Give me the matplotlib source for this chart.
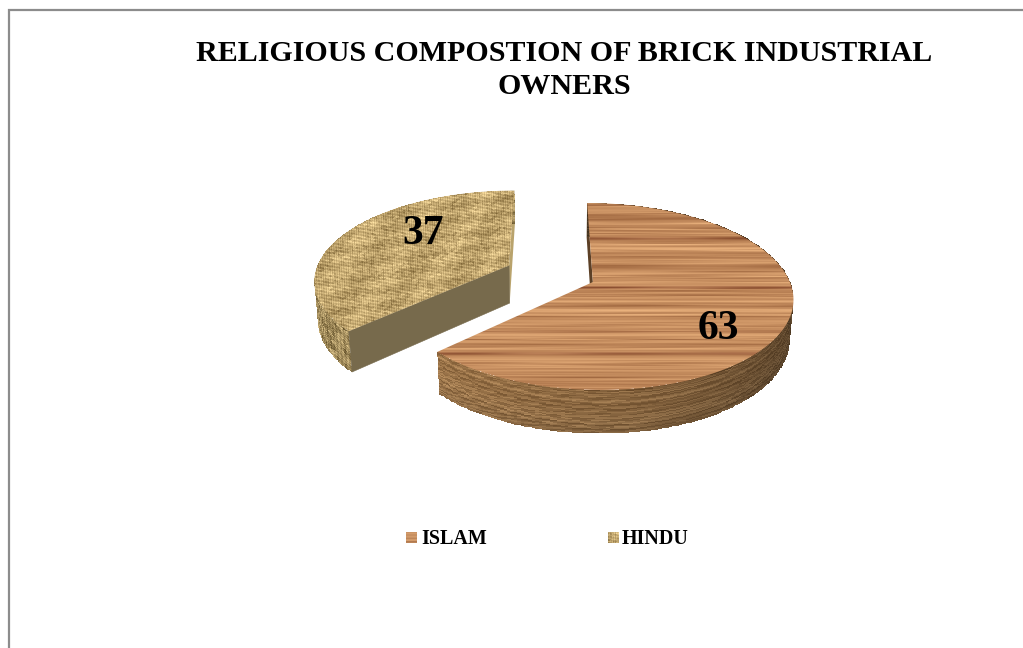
import numpy as np
import matplotlib
matplotlib.use("Agg")
import matplotlib.pyplot as plt
from matplotlib.patches import Polygon, Rectangle

TITLE = "RELIGIOUS COMPOSTION OF BRICK INDUSTRIAL\nOWNERS"
labels = ["ISLAM", "HINDU"]
values = [63, 37]

# camera for the tilted pie: vanishing x, horizon-ish y, scales, depth of the disc
VX, Y0 = 550.0, 282.0
A, B = 197.0, 91.2
K, Q = 0.155, 0.015
D = 39.0
EXPLODE = 0.235
CENTER = (0.002, 0.093)

SERIF = "Liberation Serif"


def project(x, y, h):
    w = 1 + K * y + Q * h
    return VX + A * x / w, Y0 - (B * y - D * h) / w


def hash_noise(n, seed):
    v = np.sin((np.arange(n) + seed) * 12.9898) * 43758.5453
    return v - np.floor(v)


def hash_cells(a, b):
    v = np.sin(a * 12.9898 + b * 78.233) * 43758.5453
    return v - np.floor(v)


def smooth(v, n):
    return np.convolve(v, np.ones(n) / n, mode="same")


def wood_top(x0, x1, y0, y1):
    nx, ny = x1 - x0, y1 - y0
    rows = np.arange(y0, y1)
    fine_a = smooth(hash_noise(ny, 3) - 0.5, 2) * 1.3
    fine_b = smooth(hash_noise(ny, 41) - 0.5, 2) * 1.3
    mid = smooth(hash_noise(ny, 91) - 0.5, 7) * 2.0
    phase = hash_noise(ny, 17) * 6.28
    xx = np.arange(nx)[None, :]
    # streaks fade in and out along their length
    mix = 0.5 + 0.5 * np.sin(xx / 33 + phase[:, None])
    val = fine_a[:, None] * mix + fine_b[:, None] * (1 - mix) + mid[:, None]
    dark = sum(np.exp(-((rows - r) / 1.5) ** 2) * a for r, a in [(238, 0.8), (287, 1.0), (353, 0.9), (331, 0.3)])
    base = np.array([196, 140, 94])
    amp = np.array([46, 46, 38])
    img = base + val[..., None] * amp
    img = img - (dark[:, None] * (0.85 + 0.15 * np.sin(xx / 23)))[..., None] * np.array([58, 62, 46])
    return np.clip(img, 0, 255) / 255


def burlap(x0, x1, y0, y1, shade=1.0):
    xx, yy = np.meshgrid(np.arange(x0, x1), np.arange(y0, y1))
    u = (xx + 1.4 * yy) / 4.1
    v = (xx - 1.9 * yy) / 5.3
    weave = np.sin(u * 2 * np.pi) * np.sin(v * 2 * np.pi)
    thread = hash_cells(np.floor(u), np.floor(v)) - 0.5
    patch = np.sin(xx / 11.0 + yy / 4.0) * np.sin(xx / 27.0 - yy / 6.0)
    val = 0.45 * weave + 0.7 * thread + 0.35 * patch
    base = np.array([192, 165, 110])
    amp = np.array([62, 60, 52])
    return np.clip((base + val[..., None] * amp) * shade, 0, 255) / 255


def textured(ax, img, extent, pts, z):
    im = ax.imshow(img, extent=extent, aspect="auto", interpolation="bilinear", zorder=z)
    im.set_clip_path(Polygon(pts, closed=True, transform=ax.transData))
    return im


fig = plt.figure(figsize=(10.23, 6.48), dpi=100)
ax = fig.add_axes([0, 0, 1, 1])
ax.axis("off")

# chart area frame runs off the right and bottom edges
ax.add_patch(Rectangle((9, 10), 1200, 800, fc="white", ec="#8c8c8c", lw=1.6, zorder=0))

# slice angles run clockwise from twelve o'clock
fracs = np.array(values) / sum(values)
edges = np.concatenate([[0], np.cumsum(fracs)]) * 2 * np.pi
mids = (edges[:-1] + edges[1:]) / 2
apex = [(CENTER[0] + EXPLODE * np.sin(m), CENTER[1] + EXPLODE * np.cos(m)) for m in mids]


def arc(i, n=160):
    t = np.linspace(edges[i], edges[i + 1], n)
    return t, apex[i][0] + np.sin(t), apex[i][1] + np.cos(t)


def top_outline(i):
    t, x, y = arc(i)
    sx, sy = project(x, y, 0)
    ax0, ay0 = project(apex[i][0], apex[i][1], 0)
    return np.column_stack([np.r_[ax0, sx], np.r_[ay0, sy]])


def wall_mesh(i, n_h=45):
    t, x, y = arc(i, 240)
    h = np.linspace(0, 1, n_h + 1)
    hh, xx = np.meshgrid(h, x, indexing="ij")
    yy = np.broadcast_to(y, hh.shape)
    return t, h, *project(xx, yy, hh)


def cut_face(i, edge_angle):
    px, py = apex[i][0] + np.sin(edge_angle), apex[i][1] + np.cos(edge_angle)
    a0 = project(apex[i][0], apex[i][1], 0)
    a1 = project(apex[i][0], apex[i][1], 1)
    p0 = project(px, py, 0)
    p1 = project(px, py, 1)
    return np.array([a0, p0, p1, a1])


# HINDU slice: far one, drawn first
ax.add_patch(Polygon(cut_face(1, edges[2]), closed=True, fc="#b9a36c", ec="none", zorder=2))
t, h, mx, my = wall_mesh(1)
ii, jj = np.meshgrid(np.arange(mx.shape[1] - 1), np.arange(mx.shape[0] - 1))
u, v = (ii + 1.3 * jj) / 7.0, (ii - 1.7 * jj) / 9.0
pat = np.sin(u * 6.28) * np.sin(v * 6.28) * 0.5 + (hash_cells(np.floor(u), np.floor(v)) - 0.5) * 1.1
col = np.array([162, 140, 92]) + pat[..., None] * np.array([66, 62, 52])
ax.pcolormesh(mx, my, np.clip(col, 0, 255) / 255, shading="flat", zorder=3)
ax.add_patch(Polygon(cut_face(1, edges[1]), closed=True, fc="#776a4c", ec="#776a4c", lw=0.4, zorder=4))
textured(ax, burlap(300, 530, 180, 345), (300, 530, 345, 180), top_outline(1), 5)

# ISLAM slice: left cut wall, side wall with curved grain, then the top
ax.add_patch(Polygon(cut_face(0, edges[0]), closed=True, fc="#5c4026", ec="none", zorder=6))
t, h, mx, my = wall_mesh(0)
t_mid = (t[:-1] + t[1:]) / 2
h_mid = (h[:-1] + h[1:]) / 2
grain = 0.6 * (hash_noise(140, 23) - 0.5) + 0.9 * smooth(hash_noise(140, 61) - 0.5, 5)
tt, hm = np.meshgrid(t_mid, h_mid)
ridx = np.clip((hm * 0.78 + 0.1 + 0.1 * np.sin(tt * 1.7)) * 139, 0, 139).astype(int)
light = np.interp(tt, [0, np.pi / 2, 2.2, 3.0, edges[1]], [0.55, 0.6, 0.72, 0.98, 1.12])
col = (np.array([146, 110, 70]) + grain[ridx][..., None] * np.array([70, 62, 50])) * light[..., None]
col = col * (1 - 0.14 * hm[..., None] ** 2)
ax.pcolormesh(mx, my, np.clip(col, 0, 255) / 255, shading="flat", zorder=7)
textured(ax, wood_top(425, 805, 195, 400), (425, 805, 400, 195), top_outline(0), 8)

# value labels
ax.text(423, 234, str(values[1]), family=SERIF, weight="bold", fontsize=30,
        ha="center", va="center", color="black", zorder=10)
ax.text(718, 329, str(values[0]), family=SERIF, weight="bold", fontsize=30,
        ha="center", va="center", color="black", zorder=10)

# title
ax.text(564, 70, TITLE, family=SERIF, weight="bold", fontsize=21.6, ha="center", va="center",
        linespacing=1.26, color="black", zorder=10)

# legend keys carry a small swatch of each texture
key_imgs = [wood_top(425, 436, 300, 311), burlap(340, 351, 240, 251)]
for name, kx, tx, img in zip(labels, [406, 608], [421, 622], key_imgs):
    ax.imshow(img, extent=(kx, kx + 11, 543, 532), aspect="auto", interpolation="bilinear", zorder=10)
    ax.text(tx, 539, name, family=SERIF, weight="bold", fontsize=14.4, ha="left", va="center",
            color="black", zorder=10)

ax.set_xlim(0, 1023)
ax.set_ylim(648, 0)
fig.savefig("out.png", dpi=100, facecolor="white")
